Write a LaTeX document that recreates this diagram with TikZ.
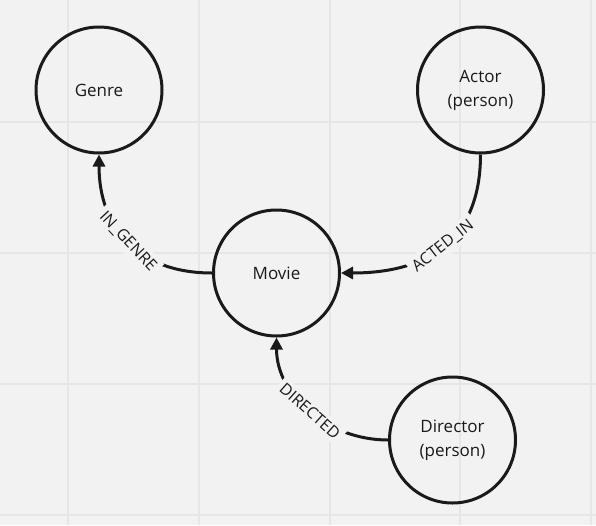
\documentclass[tikz,border=0pt]{standalone}
\usepackage{fontspec}
\setmainfont{Open Sans}
\usetikzlibrary{arrows.meta}
\definecolor{bg}{HTML}{F2F2F2}
\definecolor{gridc}{HTML}{E6E6E6}
\definecolor{ink}{HTML}{1A1A1A}
\begin{document}
\begin{tikzpicture}[x=1pt,y=1pt,
  entity/.style={circle, draw=ink, line width=3pt, minimum size=126pt, inner sep=0pt, align=center, text=ink, font=\fontsize{17}{24}\selectfont},
  rel/.style={line width=3pt, draw=ink, -{Triangle[length=12pt,width=12pt]}},
  rlabel/.style={sloped, fill=bg, inner sep=4pt, text=ink, font=\fontsize{16}{18}\selectfont},
  gridline/.style={draw=gridc, line width=1.2pt}]
\fill[bg] (0,0) rectangle (596,-525);
\useasboundingbox (0,0) rectangle (596,-525);
\foreach \gx in {68,199,330,460,591} {\draw[gridline] (\gx,0) -- (\gx,-525);}
\foreach \gy in {122,253,384,515} {\draw[gridline] (0,-\gy) -- (596,-\gy);}
\node[entity] (genre) at (99,-90) {Genre};
\node[entity] (actor) at (480.5,-90) {Actor\\(person)};
\node[entity] (movie) at (276.5,-273) {Movie};
\node[entity] (director) at (452.5,-440) {Director\\(person)};
\draw[rel] (movie.west) to[out=180,in=-90,looseness=1.15] node[rlabel]{IN\_GENRE} (genre.south);
\draw[rel] (actor.south) to[out=-90,in=0,looseness=1.2] node[rlabel]{ACTED\_IN} (movie.east);
\draw[rel] (director.west) to[out=180,in=-90] node[rlabel]{DIRECTED} (movie.south);
\end{tikzpicture}
\end{document}
